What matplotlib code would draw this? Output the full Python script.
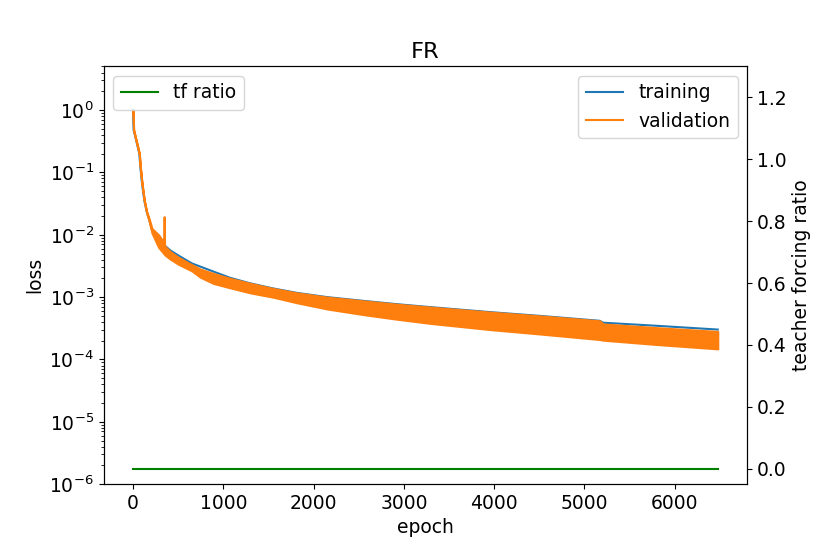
import matplotlib
matplotlib.use("Agg")
import matplotlib.pyplot as plt
from matplotlib.lines import Line2D

plt.rcParams['font.size'] = 13.5

# validation loss: upper / lower edge of the oscillating band
val_epochs = [0, 7, 44, 70, 81, 100, 125, 150, 180, 210, 283, 340, 345, 350,
              413, 500, 653, 745, 890, 1076, 1300, 1550, 1814, 2150, 2551,
              2900, 3289, 3953, 4500, 5170, 5205, 5800, 6476]
val_hi = [1.0, 0.479, 0.288, 0.200, 0.123, 0.0661, 0.0355, 0.0240, 0.0178,
          0.0126, 0.0100, 0.00759, 0.0195, 0.00661, 0.00537, 0.00437,
          0.00331, 0.00282, 0.00240, 0.00200, 0.00166, 0.00138, 0.00117,
          0.00100, 0.000871, 0.000776, 0.000692, 0.000575, 0.000501,
          0.000417, 0.000372, 0.000324, 0.000282]
val_lo = [1.0, 0.479, 0.288, 0.200, 0.123, 0.0661, 0.0355, 0.0230, 0.0162,
          0.0107, 0.00631, 0.00501, 0.00501, 0.00479, 0.00407, 0.00339,
          0.00263, 0.00209, 0.00166, 0.00141, 0.00117, 0.00100, 0.000813,
          0.000646, 0.000525, 0.000447, 0.000380, 0.000302, 0.000257,
          0.000209, 0.000204, 0.000174, 0.000148]

# training loss
train_epochs = [0, 7, 44, 70, 81, 100, 125, 150, 180, 210, 283, 357, 413, 500,
                653, 910, 1076, 1300, 1550, 1814, 2150, 2551, 2900, 3289, 3953,
                4500, 5170, 5205, 5800, 6476]
train_loss = [1.0, 0.479, 0.288, 0.200, 0.123, 0.0661, 0.0355, 0.0240, 0.0174,
              0.0120, 0.00891, 0.00661, 0.00562, 0.00468, 0.00347, 0.00251,
              0.00204, 0.00166, 0.00138, 0.00117, 0.00100, 0.000871, 0.000776,
              0.000692, 0.000575, 0.000501, 0.000417, 0.000389, 0.000347,
              0.000302]

# teacher forcing ratio
tf_epochs = [0, 6476]
tf_ratio = [0.0, 0.0]

fig, ax = plt.subplots(figsize=(8.3, 5.54), dpi=100)
fig.subplots_adjust(left=0.125, right=0.9, top=0.88, bottom=0.126)

ax.plot(train_epochs, train_loss, color='C0', lw=1.5, zorder=2)
# validation drawn on top of training
ax.fill_between(val_epochs, val_lo, val_hi, color='C1', edgecolor='C1',
                lw=1.5, zorder=3)
ax.set_yscale('log')
ax.set_ylim(1e-6, 5)
ax.set_xlabel('epoch')
ax.set_ylabel('loss')
ax.set_title('FR')
handles = [Line2D([], [], color='C0', lw=1.5), Line2D([], [], color='C1', lw=1.5)]
ax.legend(handles, ['training', 'validation'], loc='upper right')

ax2 = ax.twinx()
ax2.plot(tf_epochs, tf_ratio, color='green', lw=1.5, label='tf ratio')
ax2.set_ylim(-0.05, 1.3)
ax2.set_ylabel('teacher forcing ratio')
ax2.legend(loc='upper left')

fig.savefig('out.png', dpi=100)
